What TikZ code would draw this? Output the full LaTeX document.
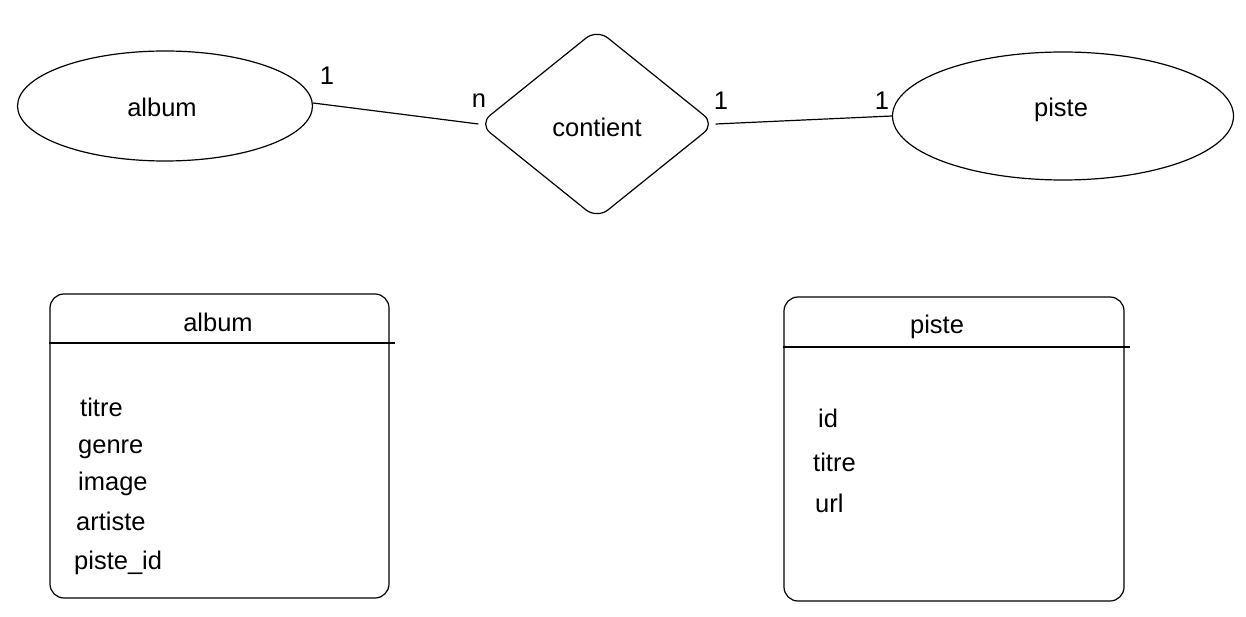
\documentclass[tikz,border=0pt]{standalone}
\usepackage{fontspec}
\setmainfont{Liberation Sans}
\usetikzlibrary{shapes.geometric,positioning}

\tikzset{
    entity/.style={draw, ellipse, line width=1.2pt, inner sep=0pt},
    relation/.style={draw, diamond, line width=1.2pt, inner sep=0pt, rounded corners=14pt},
    tablebox/.style={draw, rounded corners=14pt, line width=1.2pt},
    field/.style={anchor=base west, inner sep=0pt},
    card/.style={inner sep=0pt},
    link/.style={line width=1.2pt}
}

\begin{document}
\begin{tikzpicture}[x=1pt, y=-1pt, font=\fontsize{25.5}{30}\selectfont]
\useasboundingbox (0,0) rectangle (1246,617);

% Entities
\node[entity, minimum width=295pt, minimum height=110pt] (album) at (165,106) {};
\node at (162,107) {album};
\node[entity, minimum width=341pt, minimum height=128pt] (piste) at (1063,116) {};
\node at (1061,110) {piste};

% Relation
\node[relation, minimum width=236pt, minimum height=190pt] (contient) at (597,124) {};
\node at (597,127) {contient};

% Links
\draw[link] (album.east) ++(0,-3) coordinate (a1) -- (contient.west);
\draw[link] (contient.east) -- (piste.west);

% Cardinalities
\node[card] (c1) at (327,76) {1};
\node[card] (c2) at (479,101) {n};
\node[card] (c3) at (721,101) {1};
\node[card] (c4) at (882,101) {1};

% Table album
\node[tablebox, minimum width=339pt, minimum height=304pt] (talbum) at (219.5,446) {};
\node (talbumtitle) at (218,322) {album};
\coordinate (talbumline) at (395,343);
\draw[link] (talbum.west |- talbumline) -- (talbumline);
\node[field] (f1) at (80,416) {titre};
\node[field] (f2) at (78,453) {genre};
\node[field] (f3) at (78,490) {image};
\node[field] (f4) at (76,530) {artiste};
\node[field] (f5) at (74,569) {piste\_id};

% Table piste
\node[tablebox, minimum width=340pt, minimum height=304pt] (tpiste) at (954,449) {};
\node (tpistetitle) at (937,327) {piste};
\coordinate (tpisteline) at (1130,347);
\draw[link] (tpiste.west |- tpisteline) -- (tpisteline);
\node[field] (g1) at (818,427) {id};
\node[field] (g2) at (813,471) {titre};
\node[field] (g3) at (815,512) {url};

\end{tikzpicture}
\end{document}
